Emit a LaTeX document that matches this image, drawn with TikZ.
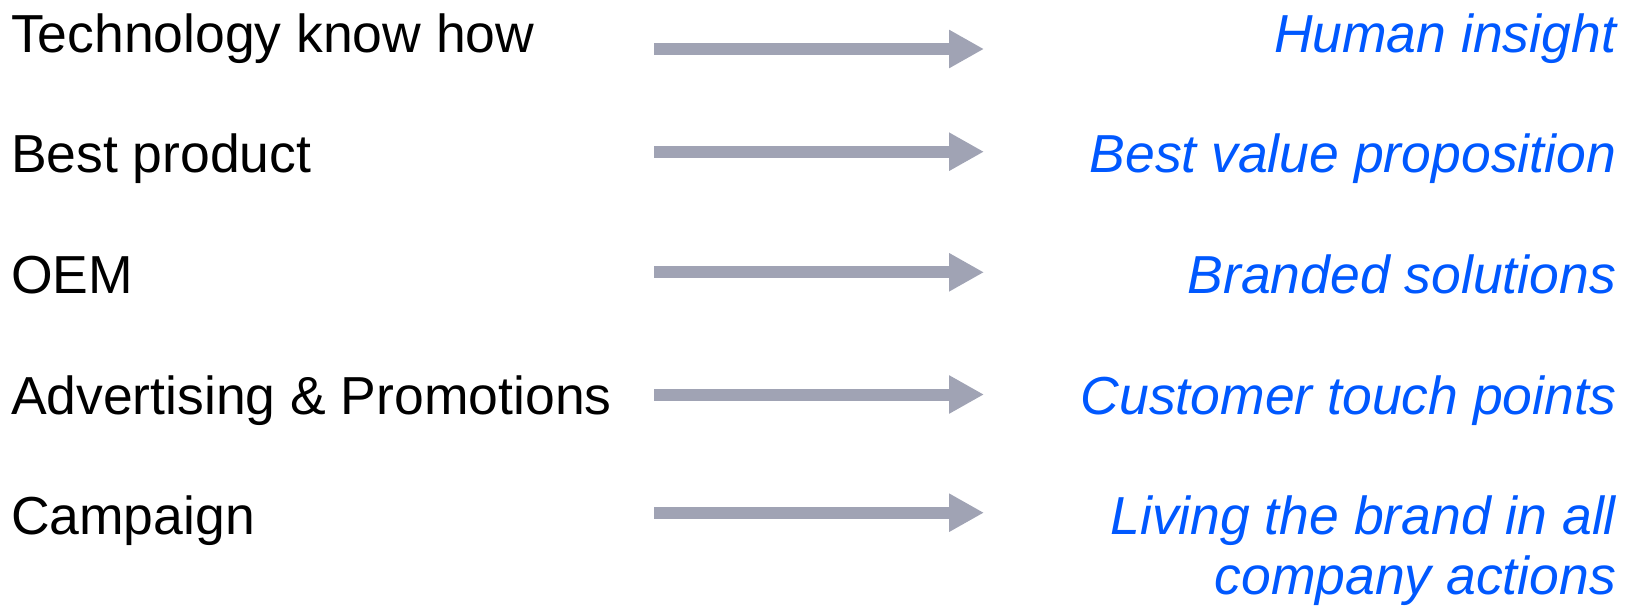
\documentclass[tikz,border=0pt]{standalone}
\usepackage{fontspec}
\setmainfont{Liberation Sans}
\usetikzlibrary{arrows.meta}

\definecolor{ideablue}{RGB}{0,88,255}
\definecolor{arrowgray}{RGB}{160,163,180}

\begin{document}
\begin{tikzpicture}[x=1pt,y=1pt,
  every node/.style={inner sep=0pt, outer sep=0pt, font=\fontsize{53.5}{60}\selectfont},
  oldway/.style={anchor=base west, text=black},
  newway/.style={anchor=base east, text=ideablue, align=right, font=\fontsize{53.5}{60}\selectfont\itshape},
  shiftarrow/.style={draw=arrowgray, line width=12pt, -{Triangle[length=35pt,width=36pt]}}]
\useasboundingbox (0,0) rectangle (1629,-608);

\node[oldway] (l1) at (11,-52) {Technology know how};
\node[oldway] (l2) at (11,-172.7) {Best product};
\node[oldway] (l3) at (11,-293.3) {OEM};
\node[oldway] (l4) at (11,-414) {Advertising \& Promotions};
\node[oldway] (l5) at (11,-534.7) {Campaign};

\node[newway] (r1) at (1616,-52) {Human insight};
\node[newway] (r2) at (1616,-172.7) {Best value proposition};
\node[newway] (r3) at (1616,-293.3) {Branded solutions};
\node[newway] (r4) at (1616,-414) {Customer touch points};
% base of a two-line node is its last line
\node[newway] (r5) at (1616,-594.7) {Living the brand in all\\company actions};

\coordinate (a1s) at (654,-49);    \coordinate (a1e) at (984,-49);
\coordinate (a2s) at (654,-151.7); \coordinate (a2e) at (984,-151.7);
\coordinate (a3s) at (654,-272.3); \coordinate (a3e) at (984,-272.3);
\coordinate (a4s) at (654,-394.5); \coordinate (a4e) at (984,-394.5);
\coordinate (a5s) at (654,-512.7); \coordinate (a5e) at (984,-512.7);

\draw[shiftarrow] (a1s) -- (a1e);
\draw[shiftarrow] (a2s) -- (a2e);
\draw[shiftarrow] (a3s) -- (a3e);
\draw[shiftarrow] (a4s) -- (a4e);
\draw[shiftarrow] (a5s) -- (a5e);
\end{tikzpicture}
\end{document}
